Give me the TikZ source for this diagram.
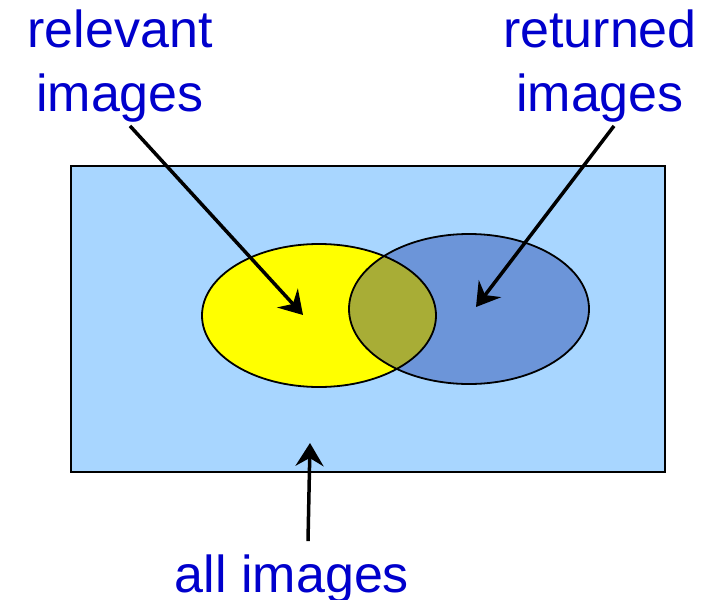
\documentclass[tikz,border=0pt]{standalone}
\usepackage{fontspec}
\setmainfont{Liberation Sans}
\usetikzlibrary{arrows.meta}
\definecolor{textblue}{RGB}{0,0,204}
\definecolor{allblue}{RGB}{168,214,255}
\definecolor{retblue}{RGB}{108,149,217}
\definecolor{bothgreen}{RGB}{168,173,54}
\definecolor{relyellow}{RGB}{255,255,0}

\begin{document}
\begin{tikzpicture}[
  x=1pt, y=-1pt,
  lbl/.style={text=textblue, font=\fontsize{52}{64}\selectfont,
              align=center, inner sep=0pt},
  arr/.style={-{Stealth[length=23pt, width=28pt, inset=8pt]}, line width=3.5pt},
  rim/.style={draw=black, line width=1.8pt}
]
  \useasboundingbox (0,0) rectangle (705,600);

  %% all images
  \draw[fill=allblue, line width=1.5pt] (71,166) rectangle (665,472);

  %% relevant and returned sets
  \fill[relyellow] (319,315.5) ellipse [x radius=117, y radius=71.5];
  \fill[retblue] (469,309) ellipse [x radius=120, y radius=75];
  \begin{scope}
    \clip (319,315.5) ellipse [x radius=117, y radius=71.5];
    \fill[bothgreen] (469,309) ellipse [x radius=120, y radius=75];
  \end{scope}
  \draw[rim] (319,315.5) ellipse [x radius=117, y radius=71.5];
  \draw[rim] (469,309) ellipse [x radius=120, y radius=75];

  %% labels
  \node[lbl] (relevant) at (120,66.5) {relevant\\images};
  \node[lbl] (returned) at (600,66.5) {returned\\images};
  \node[lbl, anchor=base] (all) at (292,592) {all images};

  \coordinate (reltip) at (303,315);
  \coordinate (rettip) at (476,307);
  \coordinate (alltip) at (310,443);

  \draw[arr] ([xshift=10pt, yshift=-3pt]relevant.south) -- (reltip);
  \draw[arr] ([xshift=14pt, yshift=-3pt]returned.south) -- (rettip);
  \draw[arr] ([xshift=16pt, yshift=13pt]all.north) -- (alltip);
\end{tikzpicture}
\end{document}
